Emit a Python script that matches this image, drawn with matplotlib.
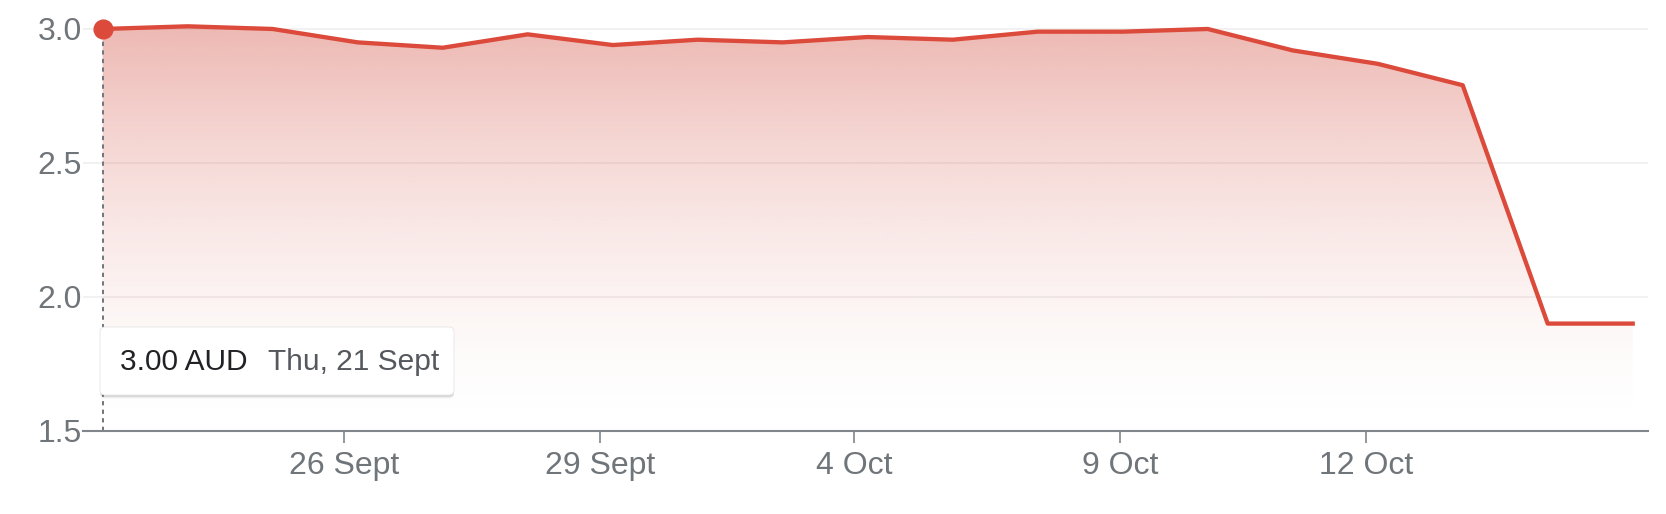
import matplotlib.pyplot as plt
import numpy as np
from matplotlib.patches import FancyBboxPatch
from matplotlib.colors import to_rgb

plt.rcParams['font.family'] = ['Liberation Sans', 'DejaVu Sans']

# trading days shown on the chart
days = ['21 Sept', '22 Sept', '25 Sept', '26 Sept', '27 Sept', '28 Sept', '29 Sept',
        '2 Oct', '3 Oct', '4 Oct', '5 Oct', '6 Oct', '9 Oct', '10 Oct', '11 Oct',
        '12 Oct', '13 Oct', '16 Oct', '17 Oct']
price = [3.00, 3.01, 3.00, 2.95, 2.93, 2.98, 2.94, 2.96, 2.95, 2.97, 2.96,
         2.99, 2.99, 3.00, 2.92, 2.87, 2.79, 1.90, 1.90]

tick_labels = ['26 Sept', '29 Sept', '4 Oct', '9 Oct', '12 Oct']
tick_pos = [2.84, 5.85, 8.84, 11.97, 14.86]
y_ticks = [1.5, 2.0, 2.5, 3.0]

red = '#db4a3a'
gray = '#70757a'

x = np.arange(len(price))
xlo, xhi = -0.232, 18.18
ylo, yhi = 1.5, 3.104

fig = plt.figure(figsize=(16.66, 5.14), dpi=100)
ax = fig.add_axes([0.0498, 0.162, 0.9394, 0.8358])

# gradient fill under the line
t = np.linspace(0.0, 1.0, 256)
grad = np.zeros((256, 1, 4))
grad[:, 0, :3] = to_rgb('#d24a3c')
grad[:, 0, 3] = 0.43 * t ** 1.6
im = ax.imshow(grad, extent=[xlo, xhi, ylo, yhi], origin='lower', aspect='auto',
               zorder=1, interpolation='bilinear')
area = ax.fill_between(x, price, ylo, color='none', lw=0)
im.set_clip_path(area.get_paths()[0], transform=ax.transData)

ax.plot(x, price, color=red, lw=3.1, zorder=3, solid_joinstyle='round')
ax.plot([x[0], x[0]], [ylo, price[0]], ls=(0, (2.2, 2.2)), color=gray, lw=1.4, zorder=2)
ax.plot(x[0], price[0], 'o', ms=13.5, color=red, zorder=4, clip_on=False)

ax.set_xlim(xlo, xhi)
ax.set_ylim(ylo, yhi)
ax.set_yticks(y_ticks)
ax.set_yticklabels([f'{v:.1f}' for v in y_ticks])
ax.set_xticks(tick_pos)
ax.set_xticklabels(tick_labels)
ax.grid(axis='y', color='#efefef', lw=1.2)
ax.set_axisbelow(True)

for s in ['left', 'top', 'right']:
    ax.spines[s].set_visible(False)
ax.spines['bottom'].set_color('#80868b')
ax.spines['bottom'].set_linewidth(1.5)

ax.tick_params(axis='y', length=0, pad=1, labelsize=23, labelcolor=gray)
ax.tick_params(axis='x', length=8.5, width=1.2, color='#80868b', pad=6,
               labelsize=23, labelcolor=gray)

# tooltip box
tr = fig.dpi_scale_trans
for off, a in [(0.035, 0.06), (0.02, 0.10)]:
    fig.patches.append(FancyBboxPatch((1.0, 1.19 - off), 3.54, 0.68,
                                      boxstyle='round,pad=0,rounding_size=0.05',
                                      transform=tr, fc='#000000', ec='none', alpha=a))
fig.patches.append(FancyBboxPatch((1.0, 1.19), 3.54, 0.68,
                                  boxstyle='round,pad=0,rounding_size=0.05',
                                  transform=tr, fc='white', ec='#e6e6e6', lw=0.6))
fig.text(1.20, 1.52, f'{price[0]:.2f} AUD', transform=tr, va='center', ha='left',
         fontsize=21.5, color='#202124')
fig.text(2.68, 1.52, f'Thu, {days[0]}', transform=tr, va='center', ha='left',
         fontsize=21.5, color='#55595e')

fig.savefig('out.png', dpi=100)
